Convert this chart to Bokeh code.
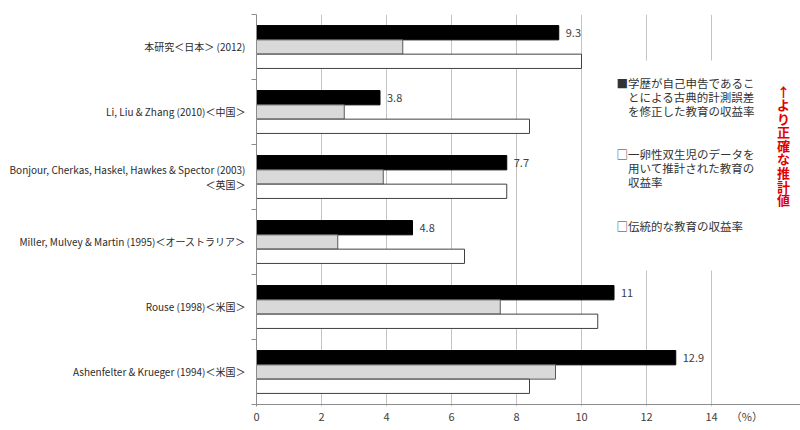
from bokeh.plotting import figure
from bokeh.models import Range1d, FixedTicker, Label, BoxAnnotation, ColumnDataSource
from bokeh.transform import dodge
from bokeh.core.properties import value
from bokeh.embed import file_html
from bokeh.resources import INLINE

studies = [
    "本研究＜日本＞ (2012)",
    "Li, Liu & Zhang (2010)＜中国＞",
    "Bonjour, Cherkas, Haskel, Hawkes & Spector (2003)\n＜英国＞",
    "Miller, Mulvey & Martin (1995)＜オーストラリア＞",
    "Rouse (1998)＜米国＞",
    "Ashenfelter & Krueger (1994)＜米国＞",
]
corrected = [9.3, 3.8, 7.7, 4.8, 11, 12.9]
twins = [4.5, 2.7, 3.9, 2.5, 7.5, 9.2]
traditional = [10.0, 8.4, 7.7, 6.4, 10.5, 8.4]
x_ticks = [0, 2, 4, 6, 8, 10, 12, 14]
unit_label = "（%）"

legend_texts = [
    "■学歴が自己申告であるこ\n　とによる古典的計測誤差\n　を修正した教育の収益率",
    "□一卵性双生児のデータを\n　用いて推計された教育の\n　収益率",
    "□伝統的な教育の収益率",
]
side_note = "↑\nよ\nり\n正\n確\nな\n推\n計\n値"

FONT = "Noto Sans CJK JP"
AXIS_GRAY = "#8c8c8c"
n = len(studies)
ypos = [n - i - 0.5 for i in range(n)]
x_max = x_ticks[-1]
unit_pos = x_max + 1.09          # where the unit label sits, right of the last tick
x_end = x_max * 544 / 455        # frame runs on to the right edge for legend / note

source = ColumnDataSource(dict(
    y=ypos, corrected=corrected, twins=twins, traditional=traditional,
    lab=[f"{v:g}" for v in corrected],
))

p = figure(width=800, height=430, x_range=Range1d(0, x_end), y_range=Range1d(-0.031, n),
           output_backend="svg", toolbar_location=None,
           min_border_left=256, min_border_right=0, min_border_top=14, min_border_bottom=24)
p.outline_line_color = None
p.background_fill_color = "white"

# x axis (line drawn as a bounded grid line at y=0 so it stops at 14)
p.xaxis.ticker = FixedTicker(ticks=x_ticks + [unit_pos])
p.xaxis.major_label_overrides = {unit_pos: unit_label}
p.xaxis.axis_line_color = None
p.xaxis.major_tick_line_color = None
p.xaxis.major_tick_in = 0
p.xaxis.major_tick_out = 0
p.xaxis.minor_tick_line_color = None
p.xaxis.major_label_standoff = 1
p.xaxis.major_label_text_font = FONT
p.xaxis.major_label_text_font_size = "11px"
p.xaxis.major_label_text_color = "#404040"
p.xgrid.ticker = FixedTicker(ticks=x_ticks[1:])
p.xgrid.grid_line_color = "#c4c4c4"
p.ygrid.ticker = FixedTicker(ticks=[0])
p.ygrid.bounds = (0, x_max)
p.ygrid.grid_line_color = AXIS_GRAY

# y axis
p.yaxis.ticker = FixedTicker(ticks=ypos, minor_ticks=list(range(n + 1)))
p.yaxis.major_label_overrides = {y: s for y, s in zip(ypos, studies)}
p.yaxis.major_tick_line_color = None
p.yaxis.major_tick_in = 0
p.yaxis.major_tick_out = 0
p.yaxis.minor_tick_in = 0
p.yaxis.minor_tick_out = 5
p.yaxis.minor_tick_line_color = AXIS_GRAY
p.yaxis.axis_line_color = AXIS_GRAY
p.yaxis.major_label_standoff = 6
p.yaxis.major_label_text_font = FONT
p.yaxis.major_label_text_font_size = "10px"
p.yaxis.major_label_text_line_height = 1.0
p.yaxis.major_label_text_color = "#2b2b2b"

bh = 0.22
p.hbar(y=dodge("y", bh, range=p.y_range), left=0, right="corrected", height=bh,
       fill_color="black", line_color="black", line_width=1, source=source)
p.hbar(y="y", left=0, right="twins", height=bh,
       fill_color="#d9d9d9", line_color="#595959", line_width=1, source=source)
p.hbar(y=dodge("y", -bh, range=p.y_range), left=0, right="traditional", height=bh,
       fill_color="white", line_color="#404040", line_width=1, source=source)
p.text(x="corrected", y=dodge("y", bh, range=p.y_range), text="lab", source=source,
       x_offset=7, text_baseline="middle", text_align="left",
       text_font=value(FONT), text_font_size="11px", text_color="#404040")

# legend panel
p.add_layout(BoxAnnotation(left=600, right=780, top=60, bottom=270,
                           left_units="canvas", right_units="canvas",
                           top_units="canvas", bottom_units="canvas",
                           fill_color="white", fill_alpha=1, line_color=None))
for txt, top in zip(legend_texts, [74, 145, 217]):
    p.add_layout(Label(x=616, y=top, x_units="canvas", y_units="canvas", text=txt,
                       text_font=FONT, text_font_size="11.5px", text_color="#333333",
                       text_baseline="top", text_align="left", text_line_height=0.89))
p.add_layout(Label(x=783, y=81, x_units="canvas", y_units="canvas", text=side_note,
                   text_font=FONT, text_font_size="13px", text_font_style="bold",
                   text_color="#e00000", text_baseline="top", text_align="center",
                   text_line_height=0.715))

open("out.html", "w").write(file_html(p, INLINE))
